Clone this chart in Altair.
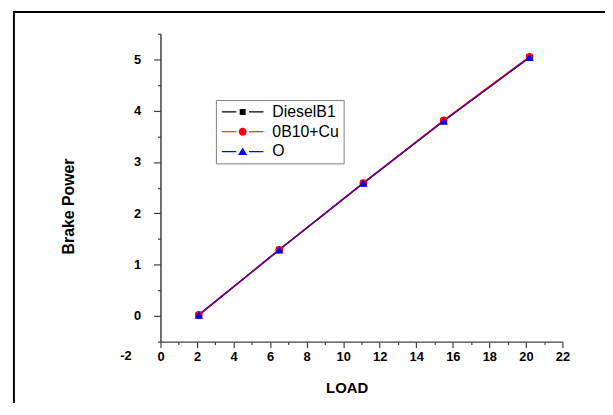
import altair as alt
import pandas as pd

# ---- data ----
load = [2.1, 6.5, 11.1, 15.5, 20.2]
diesel_b1 = [0.02, 1.29, 2.59, 3.80, 5.04]
b10_cu = [0.02, 1.29, 2.59, 3.81, 5.05]
series_o = [0.02, 1.29, 2.59, 3.80, 5.04]

series_names = ["DieselB1", "0B10+Cu", "O"]
series_colors = ["#000000", "#ff0000", "#0000ff"]
line_opacity = [1.0, 1.0, 0.6]
marker_shapes = ["square", "circle", "triangle-up"]
marker_sizes = [36, 60, 75]

x_ticks = list(range(0, 23))
y_ticks = [v / 2 for v in range(-1, 12)]
extra_x_label = ["-2"]
extra_x_pos = [-2]

# legend glyphs (units of symbol radius): thin filled bars either side of the marker
seg = "M-5.25,-0.15H-1.6V0.15H-5.25ZM1.6,-0.15H5.25V0.15H1.6Z"
legend_paths = [
    seg + "M-0.75,-0.75H0.75V0.75H-0.75Z",
    seg + "M1,0A1,1 0 1,1 -1,0A1,1 0 1,1 1,0Z",
    seg + "M0,-1.05L1.15,0.9L-1.15,0.9Z",
]

rows = []
for name, vals in zip(series_names, [diesel_b1, b10_cu, series_o]):
    for l, v in zip(load, vals):
        rows.append({"load": l, "power": v, "series": name})
df = pd.DataFrame(rows)

FONT = "Arial, Liberation Sans, sans-serif"
AXIS_COLOR = "#404040"

xscale = alt.Scale(domain=[0, 22], nice=False, zero=False)
yscale = alt.Scale(domain=[-0.5, 5.5], nice=False, zero=False)

x_axis = alt.Axis(
    values=x_ticks,
    labelExpr="datum.value % 2 === 0 ? format(datum.value, 'd') : ''",
    tickSize={"condition": {"test": "datum.value % 2 === 0", "value": 6}, "value": 3},
    labelPadding=3,
    grid=False,
    domainColor=AXIS_COLOR,
    tickColor=AXIS_COLOR,
    domainWidth=1.5,
    tickWidth=1.2,
    labelFont=FONT,
    labelFontSize=13,
    labelFontWeight="bold",
    labelColor="black",
    labelFlush=False,
    labelOverlap=False,
    labelBound=False,
    title="LOAD",
    titleFont=FONT,
    titleFontSize=15,
    titleFontWeight="bold",
    titleColor="black",
    titleX=188,
    titleY=46,
    titleBaseline="middle",
    titleAlign="center",
)

y_axis = alt.Axis(
    values=y_ticks,
    labelExpr="datum.value % 1 === 0 ? format(datum.value, 'd') : ''",
    tickSize={"condition": {"test": "datum.value % 1 === 0", "value": 7}, "value": 3},
    labelPadding=13,
    grid=False,
    domainColor=AXIS_COLOR,
    tickColor=AXIS_COLOR,
    domainWidth=1.5,
    tickWidth=1.2,
    labelFont=FONT,
    labelFontSize=13,
    labelFontWeight="bold",
    labelColor="black",
    labelFlush=False,
    labelOverlap=False,
    labelBound=False,
    title="Brake Power",
    titleFont=FONT,
    titleFontSize=16,
    titleFontWeight="bold",
    titleColor="black",
    titleX=-93,
    titleY=174,
    titleBaseline="middle",
    titleAlign="center",
    titleAngle=270,
)

x_enc = alt.X("load:Q", scale=xscale, axis=x_axis)
y_enc = alt.Y("power:Q", scale=yscale, axis=y_axis)

line_layers = []
for name, col, op in zip(series_names, series_colors, line_opacity):
    line_layers.append(
        alt.Chart(df)
        .transform_filter(alt.datum.series == name)
        .mark_line(strokeWidth=1.5, color=col, opacity=op)
        .encode(x=x_enc, y=y_enc)
    )

point_layers = []
for name, col, shp, sz in zip(series_names, series_colors, marker_shapes, marker_sizes):
    point_layers.append(
        alt.Chart(df)
        .transform_filter(alt.datum.series == name)
        .mark_point(filled=True, opacity=1, shape=shp, size=sz, color=col)
        .encode(x=x_enc, y=y_enc)
    )

legend_props = dict(
    title=None,
    orient="none",
    legendX=56,
    legendY=67,
    padding=4,
    fillColor="white",
    strokeColor="#808080",
    labelFont=FONT,
    labelFontSize=16,
    labelColor="black",
    symbolSize=64,
    symbolOpacity=1,
    symbolOffset=15,
    labelOffset=22,
    rowPadding=4,
)

# invisible layer feeding the legend (colour + shape merged)
legend_layer = (
    alt.Chart(df)
    .mark_point(filled=True, opacity=0)
    .encode(
        x=x_enc,
        y=y_enc,
        color=alt.Color("series:N", scale=alt.Scale(domain=series_names, range=series_colors),
                        legend=alt.Legend(**legend_props)),
        shape=alt.Shape("series:N", scale=alt.Scale(domain=series_names, range=legend_paths),
                        legend=alt.Legend(**legend_props)),
    )
)

neg_label = (
    alt.Chart(pd.DataFrame({"x": extra_x_pos, "t": extra_x_label}))
    .mark_text(font=FONT, fontSize=13, fontWeight="bold", color="black", baseline="middle",
               align="center", dx=2)
    .encode(x=alt.X("x:Q", scale=xscale, axis=x_axis), y=alt.value(326), text=alt.Text("t:N"))
)

frame_top = alt.Chart(pd.DataFrame({"a": [0]})).mark_rule(color="black", strokeWidth=2).encode(
    x=alt.value(-149), x2=alt.value(460), y=alt.value(-22)
)
frame_left = alt.Chart(pd.DataFrame({"a": [0]})).mark_rule(color="black", strokeWidth=2).encode(
    x=alt.value(-148), y=alt.value(-23), y2=alt.value(400)
)

chart = (
    alt.layer(frame_top, frame_left, *line_layers, *point_layers, legend_layer, neg_label)
    .properties(
        width=406,
        height=311,
        autosize=alt.AutoSizeParams(type="none"),
        padding={"left": 154, "top": 24, "right": 43, "bottom": 60},
    )
    .configure(background="white")
    .configure_view(stroke=None)
)

chart.save("out.html", embed_options={"renderer": "svg", "actions": False})
